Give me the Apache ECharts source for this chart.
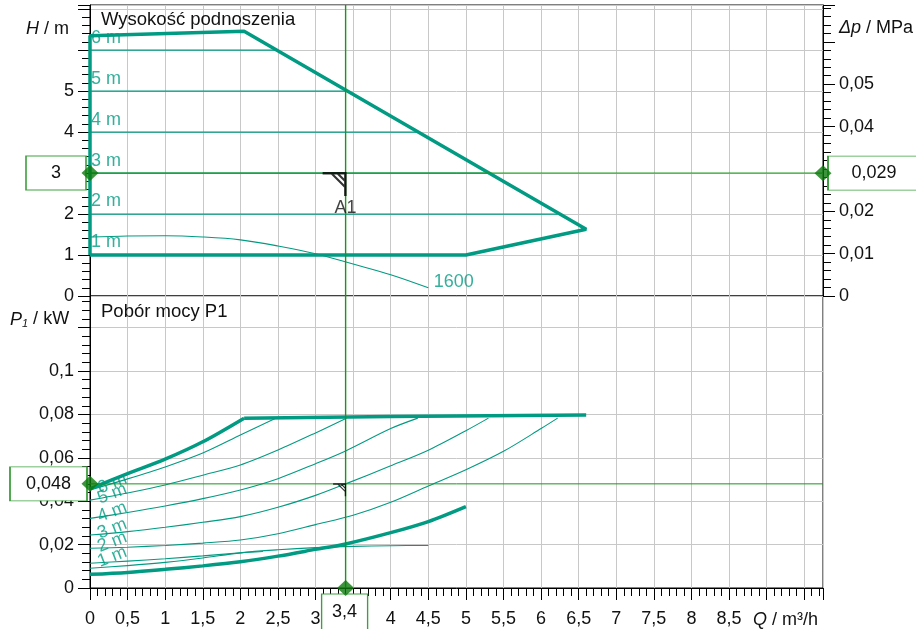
<!DOCTYPE html>
<html>
<head>
<meta charset="utf-8">
<script src="https://cdn.jsdelivr.net/npm/echarts@6/dist/echarts.min.js"></script>
<style>
html,body{margin:0;padding:0;background:#fff;}
#chart{width:916px;height:629px;}
</style>
</head>
<body>
<div id="chart"></div>
<script>
// ================= DATA =================
const qMax = 9.75;      // m³/h at right edge
const hMax = 7.1;       // m at top edge
const dpMax = 0.0687;   // MPa at top edge
const pMax = 0.1346;    // kW at top of lower panel

const qTickStep = 0.5, qMinorStep = 0.1, qLabelLast = 8.5;
const hTickStep = 1, hMinorStep = 0.2, hLabelLast = 5;
const dpTickStep = 0.01, dpMinorStep = 0.002, dpLabelLast = 0.05;
const pTickStep = 0.02, pMinorStep = 0.004, pLabelLast = 0.1;

// constant-pressure levels (upper panel)
const headLevels = [1, 2, 3, 4, 5, 6];
const headLabels = ['1 m', '2 m', '3 m', '4 m', '5 m', '6 m'];
const headLevelEndQ = [5.0, 6.22, 5.3, 4.36, 3.41, 2.47];

// operating envelope (upper panel)
const envelopeQ = [0, 0, 2.05, 6.6, 5.0, 0];
const envelopeH = [1.0, 6.35, 6.46, 1.63, 1.0, 1.0];

// fixed-speed curve "1600"
const speedName = '1600';
const speedQ = [0, 0.5, 1, 1.5, 2, 2.5, 3, 3.5, 4, 4.5];
const speedH = [1.44, 1.465, 1.47, 1.44, 1.37, 1.22, 1.03, 0.78, 0.52, 0.2];
const speedP = [0.0091, 0.0103, 0.0118, 0.0138, 0.0162, 0.0176, 0.0186, 0.0192, 0.0195, 0.0196];

// power envelope (lower panel)
const powerMaxRiseQ = [0, 0.5, 1, 1.5, 2.05];
const powerMaxRiseP = [0.0457, 0.0527, 0.0594, 0.0674, 0.0783];
const powerMaxFlatQ = [2.05, 4.0, 6.6];
const powerMaxFlatP = [0.0783, 0.0790, 0.0797];
const powerMinQ = [0, 0.5, 1, 1.5, 2, 2.5, 3, 3.4, 4, 4.5, 5];
const powerMinP = [0.0063, 0.0072, 0.0086, 0.0102, 0.0121, 0.0147, 0.0178, 0.0203, 0.0255, 0.0306, 0.0375];

// power for each constant-pressure level
const power1mQ = [0, 0.5, 1, 1.5, 2, 2.3];
const power1mP = [0.0114, 0.0124, 0.0135, 0.0148, 0.0162, 0.0168];
const power2mQ = [0, 0.5, 1, 1.5, 2, 2.5, 3, 3.5, 4, 4.5, 5, 5.5, 6, 6.22];
const power2mP = [0.0183, 0.0188, 0.0196, 0.0207, 0.0221, 0.025, 0.0292, 0.0335, 0.0395, 0.047, 0.0545, 0.063, 0.0735, 0.0783];
const power3mQ = [0, 0.5, 1, 1.5, 2, 2.5, 3, 3.4, 4, 4.5, 5, 5.3];
const power3mP = [0.0244, 0.026, 0.028, 0.0303, 0.0329, 0.0372, 0.0427, 0.048, 0.0563, 0.0635, 0.0725, 0.0783];
const power4mQ = [0, 0.5, 1, 1.5, 2, 2.5, 3, 3.4, 4, 4.36];
const power4mP = [0.0321, 0.0348, 0.0378, 0.0412, 0.0452, 0.0504, 0.0573, 0.0632, 0.0735, 0.0783];
const power5mQ = [0, 0.5, 1, 1.5, 2, 2.5, 3, 3.41];
const power5mP = [0.0405, 0.0438, 0.0475, 0.052, 0.0567, 0.0636, 0.0715, 0.0783];
const power6mQ = [0, 0.5, 1, 1.5, 2, 2.47];
const power6mP = [0.0452, 0.0503, 0.0558, 0.0622, 0.0705, 0.0783];

// operating point
const opName = 'A1';
const opQ = 3.4, opH = 3, opDp = 0.029, opP = 0.048;

// ================= STYLE =================
const FONT = "'Liberation Sans', Arial, Helvetica, sans-serif";
const TEAL = '#009b82';
const GREEN = '#189618';
const BOXGREEN = '#3f9f3f';
const DIAMOND = '#0b7a0b';
const GRID = '#c8c8c8';
const TXT = '#111';

const fmt = v => String(parseFloat((+v).toFixed(4))).replace('.', ',');
const xy = (qs, vs) => qs.map((q, i) => [q, vs[i]]);
const near = (a, b, tol) => Math.abs(a - b) < tol;

const powerCurves = [
  [power1mQ, power1mP], [power2mQ, power2mP], [power3mQ, power3mP],
  [power4mQ, power4mP], [power5mQ, power5mP], [power6mQ, power6mP]
];

function majorAxis(o) {
  return Object.assign({
    type: 'value',
    axisLine: { show: true, onZero: false, lineStyle: { color: '#000', width: 1 } },
    axisTick: { show: true, length: 12, lineStyle: { color: '#000', width: 1 } },
    axisLabel: { show: true, fontSize: 18, color: TXT, fontFamily: FONT },
    splitLine: { show: true, lineStyle: { color: GRID, width: 1 } }
  }, o);
}
function minorAxis(o) {
  return Object.assign({
    type: 'value',
    axisLine: { show: false, onZero: false },
    axisTick: { show: true, length: 8, lineStyle: { color: '#000', width: 1 } },
    axisLabel: { show: false },
    splitLine: { show: false }
  }, o);
}

const xAxis = [
  { type: 'value', gridIndex: 0, min: 0, max: qMax, interval: qTickStep,
    axisLine: { show: false }, axisTick: { show: false }, axisLabel: { show: false },
    splitLine: { show: true, lineStyle: { color: GRID, width: 1 } } },
  majorAxis({ gridIndex: 1, position: 'bottom', min: 0, max: qMax, interval: qTickStep,
    axisLabel: { show: true, fontSize: 18, color: TXT, fontFamily: FONT, margin: 22,
      formatter: v => (v > qLabelLast + 1e-6 || near(v, opQ, 0.3)) ? '' : fmt(v) } }),
  minorAxis({ gridIndex: 1, position: 'bottom', min: 0, max: qMax, interval: qMinorStep })
];

const yAxis = [
  majorAxis({ gridIndex: 0, position: 'left', min: 0, max: hMax, interval: hTickStep,
    axisLabel: { show: true, fontSize: 18, color: TXT, fontFamily: FONT, margin: 16,
      formatter: v => (v > hLabelLast + 1e-6 || near(v, opH, 0.3)) ? '' : fmt(v) } }),
  minorAxis({ gridIndex: 0, position: 'left', min: 0, max: hMax, interval: hMinorStep }),
  majorAxis({ gridIndex: 0, position: 'right', min: 0, max: dpMax, interval: dpTickStep,
    splitLine: { show: false },
    axisLabel: { show: true, fontSize: 18, color: TXT, fontFamily: FONT, margin: 16,
      formatter: v => (v > dpLabelLast + 1e-6 || near(v, opDp, 0.003)) ? '' : fmt(v) } }),
  minorAxis({ gridIndex: 0, position: 'right', min: 0, max: dpMax, interval: dpMinorStep }),
  majorAxis({ gridIndex: 1, position: 'left', min: 0, max: pMax, interval: pTickStep,
    axisLabel: { show: true, fontSize: 18, color: TXT, fontFamily: FONT, margin: 16,
      formatter: v => v > pLabelLast + 1e-6 ? '' : fmt(v) } }),
  minorAxis({ gridIndex: 1, position: 'left', min: 0, max: pMax, interval: pMinorStep })
];

const series = [];
const TOP = { xAxisIndex: 0, yAxisIndex: 0 };
const BOT = { xAxisIndex: 1, yAxisIndex: 4 };

function line(axes, data, width, extra) {
  return Object.assign({ type: 'line', data: data, symbol: 'none', silent: true,
    lineStyle: { color: TEAL, width: width }, z: 3 }, axes, extra || {});
}
// crosshair through the operating point, spanning the full axis extents
function crosshair(axes, q, v, vMax) {
  const st = { type: 'line', symbol: 'none', silent: true, clip: false,
    itemStyle: { color: GREEN }, z: 5 };
  return [
    Object.assign({}, st, axes, { data: [[q, 0], [q, vMax]], lineStyle: { color: GREEN, width: 1.4 } }),
    Object.assign({}, st, axes, { data: [[0, v], [qMax, v]], lineStyle: { color: GREEN, width: 1 } })
  ];
}

// ---- upper panel ----
headLevels.forEach((h, i) => {
  series.push(line(TOP, [[0, h], [headLevelEndQ[i], h]], 1.3, { z: 2 }));
});
series.push(line(TOP, xy(envelopeQ, envelopeH), 3.5));
series.push(line(TOP, xy(speedQ, speedH), 1.1, { smooth: 0.35 }));

series.push(Object.assign({
  type: 'scatter', silent: true, clip: false, symbolSize: 1,
  itemStyle: { color: 'rgba(0,0,0,0)' },
  data: headLevels.map((h, i) => ({ value: [0, h], name: headLabels[i] })),
  label: { show: true, position: 'top', align: 'left', distance: 3, offset: [1, 0],
    formatter: '{b}', color: TEAL, fontSize: 18, fontFamily: FONT },
  z: 4
}, TOP));
series.push(Object.assign({
  type: 'scatter', silent: true, clip: false, symbolSize: 1,
  itemStyle: { color: 'rgba(0,0,0,0)' },
  data: [{ value: [speedQ[speedQ.length - 1], speedH[speedH.length - 1]], name: speedName }],
  label: { show: true, position: 'right', distance: 5, offset: [0, -6],
    formatter: '{b}', color: TEAL, fontSize: 18, fontFamily: FONT },
  z: 4
}, TOP));

series.push(...crosshair(TOP, opQ, opH, hMax));

const A1PATH = 'path://M0,0H24V24H21.5V2.5H0Z M8.5,2.5H11.5L21.5,12.5V15.5Z M14.5,2.5H17.5L21.5,6.5V9.5Z';

series.push(Object.assign({
  type: 'scatter', silent: true, clip: false,
  symbol: A1PATH, symbolSize: 24, symbolOffset: [-11, 11], symbolKeepAspect: true,
  itemStyle: { color: '#000' },
  data: [{ value: [opQ, opH], name: opName }],
  label: { show: true, position: 'bottom', distance: 3, offset: [11, 0], formatter: '{b}',
    color: TXT, fontSize: 18, fontFamily: FONT },
  z: 6
}, TOP));

// ---- lower panel ----
series.push(line(BOT, xy(powerMinQ, powerMinP), 3.5, { smooth: 0.3 }));
series.push(line(BOT, xy(powerMaxRiseQ, powerMaxRiseP), 3.5, { smooth: 0.3 }));
series.push(line(BOT, xy(powerMaxFlatQ, powerMaxFlatP), 3.5));
powerCurves.forEach(c => series.push(line(BOT, xy(c[0], c[1]), 1.1, { smooth: 0.3, z: 2 })));
series.push(line(BOT, xy(speedQ, speedP), 1.1, { smooth: 0.3, z: 2 }));

series.push(Object.assign({
  type: 'scatter', silent: true, clip: false, symbolSize: 1,
  itemStyle: { color: 'rgba(0,0,0,0)' },
  data: powerCurves.map((c, i) => ({ value: [c[0][0], c[1][0]], name: headLabels[i] })),
  label: { show: true, position: 'right', distance: 8, rotate: 21, offset: [0, -1],
    formatter: '{b}', color: TEAL, fontSize: 18, fontFamily: FONT },
  z: 4
}, BOT));

series.push(...crosshair(BOT, opQ, opP, pMax));

series.push(Object.assign({
  type: 'scatter', silent: true, clip: false,
  symbol: A1PATH, symbolSize: 13, symbolOffset: [-6, 6], symbolKeepAspect: true,
  itemStyle: { color: '#000' },
  data: [[opQ, opP]],
  z: 6
}, BOT));

// ---- value boxes (rect symbols) and diamonds ----
function box(axes, value, text, size, offset) {
  return Object.assign({
    type: 'scatter', silent: true, clip: false, symbol: 'rect',
    symbolSize: size, symbolOffset: offset,
    itemStyle: { color: '#fff', borderColor: BOXGREEN, borderWidth: 1.2, opacity: 1 },
    data: [{ value: value, name: text }],
    label: { show: true, position: 'inside', formatter: '{b}', fontSize: 18,
      color: TXT, fontFamily: FONT },
    z: 7
  }, axes);
}
function diamond(axes, value) {
  return Object.assign({
    type: 'scatter', silent: true, clip: false, symbol: 'diamond', symbolSize: [17, 16],
    itemStyle: { color: DIAMOND }, data: [value], z: 9
  }, axes);
}
series.push(box(TOP, [0, opH], fmt(opH), [60, 34], [-34, 0]));
series.push(diamond(TOP, [0, opH]));
series.push(box({ xAxisIndex: 0, yAxisIndex: 2 }, [qMax, opDp], fmt(opDp), [92, 34], [51, 0]));
series.push(diamond({ xAxisIndex: 0, yAxisIndex: 2 }, [qMax, opDp]));
series.push(box(BOT, [0, opP], fmt(opP), [77, 34], [-41.5, 0]));
series.push(diamond(BOT, [0, opP]));
series.push(box(BOT, [opQ, 0], fmt(opQ), [46, 36], [-1, 24]));
series.push(diamond(BOT, [opQ, 0]));

const titleStyle = { fontSize: 18.5, fontWeight: 'normal', color: TXT, fontFamily: FONT };
const axisNameStyle = {
  fontSize: 18, fontWeight: 'normal', color: TXT, fontFamily: FONT,
  rich: {
    i: { fontSize: 18, fontStyle: 'italic', color: TXT, fontFamily: FONT },
    s: { fontSize: 11, fontStyle: 'italic', color: TXT, fontFamily: FONT, verticalAlign: 'bottom', padding: [8, 0, 0, 0] },
    n: { fontSize: 18, color: TXT, fontFamily: FONT }
  }
};

const option = {
  animation: false,
  backgroundColor: '#fff',
  title: [
    { text: 'Wysokość podnoszenia', left: 101, top: 10, padding: 0, textStyle: titleStyle },
    { text: 'Pobór mocy P1', left: 101, top: 302, padding: 0, textStyle: titleStyle },
    { text: '{i|H}{n| / m}', left: 26, top: 20, padding: 0, textStyle: axisNameStyle },
    { text: '{i|Δp}{n| / MPa}', left: 839, top: 19, padding: 0, textStyle: axisNameStyle },
    { text: '{i|P}{s|1}{n| / kW}', left: 10, top: 310, padding: 0, textStyle: axisNameStyle },
    { text: '{i|Q}{n| / m³/h}', left: 753, top: 611, padding: 0, textStyle: axisNameStyle }
  ],
  grid: [
    { left: 90, top: 5, width: 733, height: 291, show: true, borderColor: '#000', borderWidth: 1, backgroundColor: 'transparent' },
    { left: 90, top: 296, width: 733, height: 292, show: true, borderColor: '#000', borderWidth: 1, backgroundColor: 'transparent' }
  ],
  xAxis: xAxis,
  yAxis: yAxis,
  series: series
};

const chart = echarts.init(document.getElementById('chart'), null, { renderer: 'canvas' });
chart.setOption(option);
</script>
</body>
</html>
